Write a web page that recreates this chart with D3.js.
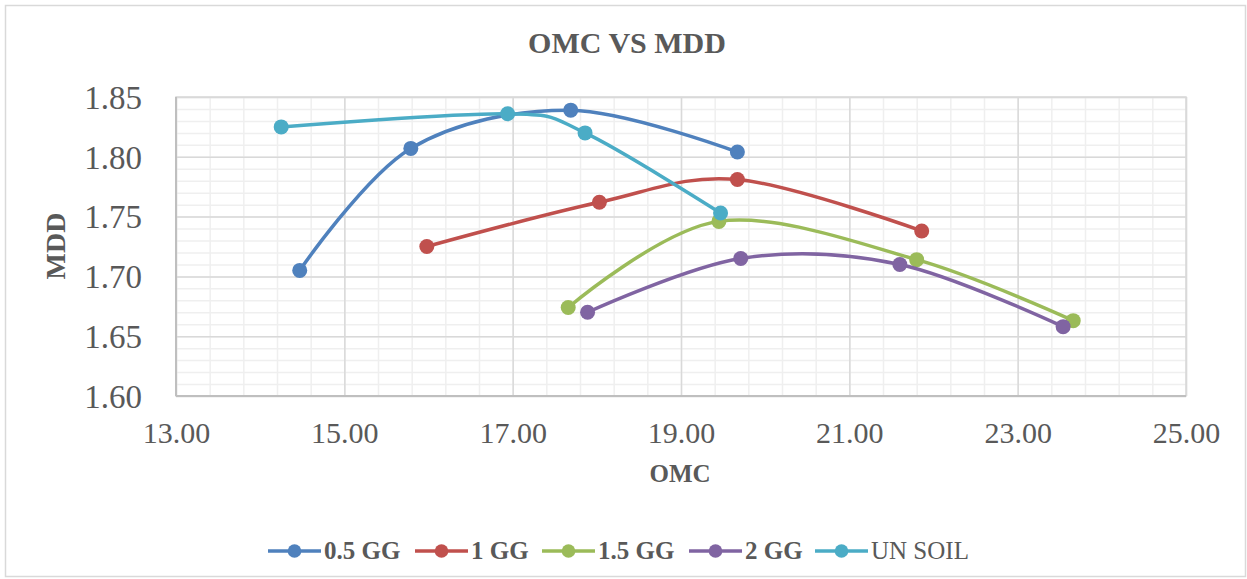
<!DOCTYPE html>
<html>
<head>
<meta charset="utf-8">
<script src="https://cdn.jsdelivr.net/npm/d3@7"></script>
<style>
  body { margin: 0; background: #fff; }
  text { font-family: "Liberation Serif", "Times New Roman", serif; fill: #595959; }
</style>
</head>
<body>
<div id="chart"></div>
<script>
const WIDTH = 1247;
const HEIGHT = 579;

// series names and colours
const SERIES = ['0.5 GG', '1 GG', '1.5 GG', '2 GG', 'UN SOIL'];
const COLORS = ['#4f81bd', '#c0504d', '#9bbb59', '#8064a2', '#4bacc6'];

// OMC (x) and MDD (y)
const OMC_05 = [14.47, 15.79, 17.69, 19.67];
const MDD_05 = [1.705, 1.807, 1.839, 1.804];
const OMC_1 = [15.98, 18.03, 19.67, 21.86];
const MDD_1 = [1.725, 1.762, 1.781, 1.738];
const OMC_15 = [17.66, 19.45, 21.80, 23.66];
const MDD_15 = [1.674, 1.746, 1.714, 1.663];
const OMC_2 = [17.89, 19.71, 21.60, 23.54];
const MDD_2 = [1.670, 1.715, 1.710, 1.658];
const OMC_UN = [14.25, 16.94, 17.86, 19.47];
const MDD_UN = [1.825, 1.836, 1.820, 1.753];

const X_TICKS = [13, 15, 17, 19, 21, 23, 25];
const Y_TICKS = [1.60, 1.65, 1.70, 1.75, 1.80, 1.85];

const OMC_ALL = [OMC_05, OMC_1, OMC_15, OMC_2, OMC_UN];
const MDD_ALL = [MDD_05, MDD_1, MDD_15, MDD_2, MDD_UN];

const margin = { top: 97, right: 61, bottom: 183, left: 176 };
const width = WIDTH - margin.left - margin.right;
const height = HEIGHT - margin.top - margin.bottom;

const svg = d3.select('#chart')
  .append('svg')
  .attr('width', WIDTH)
  .attr('height', HEIGHT);

// outer chart border
svg.append('rect')
  .attr('x', 5.5).attr('y', 5.5)
  .attr('width', WIDTH - 7).attr('height', HEIGHT - 8)
  .attr('fill', 'none')
  .attr('stroke', '#d9d9d9')
  .attr('stroke-width', 1.5);

const x = d3.scaleLinear().domain([13, 25]).range([0, width]);
const y = d3.scaleLinear().domain([1.60, 1.85]).range([height, 0]);

const g = svg.append('g')
  .attr('transform', 'translate(' + margin.left + ',' + margin.top + ')');

// minor gridlines
g.append('g')
  .call(d3.axisBottom(x).tickValues(d3.range(13, 25.01, 0.4)).tickSize(-height).tickFormat(''))
  .attr('transform', 'translate(0,' + height + ')')
  .call(a => a.select('.domain').remove())
  .selectAll('line').attr('stroke', '#efefef').attr('stroke-width', 1.5);

g.append('g')
  .call(d3.axisLeft(y).tickValues(d3.range(1.60, 1.8501, 0.01)).tickSize(-width).tickFormat(''))
  .call(a => a.select('.domain').remove())
  .selectAll('line').attr('stroke', '#efefef').attr('stroke-width', 1.5);

// major gridlines
g.append('g')
  .call(d3.axisBottom(x).tickValues(X_TICKS).tickSize(-height).tickFormat(''))
  .attr('transform', 'translate(0,' + height + ')')
  .call(a => a.select('.domain').remove())
  .selectAll('line').attr('stroke', '#d9d9d9').attr('stroke-width', 1.5);

g.append('g')
  .call(d3.axisLeft(y).tickValues(Y_TICKS).tickSize(-width).tickFormat(''))
  .call(a => a.select('.domain').remove())
  .selectAll('line').attr('stroke', '#d9d9d9').attr('stroke-width', 1.5);

// plot frame
g.append('rect')
  .attr('width', width).attr('height', height)
  .attr('fill', 'none')
  .attr('stroke', '#d9d9d9')
  .attr('stroke-width', 1.5);

// axis lines
g.append('line')
  .attr('x1', 0).attr('x2', 0).attr('y1', 0).attr('y2', height)
  .attr('stroke', '#bfbfbf').attr('stroke-width', 2);
g.append('line')
  .attr('x1', 0).attr('x2', width).attr('y1', height).attr('y2', height)
  .attr('stroke', '#bfbfbf').attr('stroke-width', 2);

// tick labels
const xAxis = g.append('g')
  .attr('transform', 'translate(0,' + height + ')')
  .call(d3.axisBottom(x).tickValues(X_TICKS).tickSize(0).tickPadding(0).tickFormat(d3.format('.2f')));
xAxis.select('.domain').remove();
xAxis.selectAll('text')
  .attr('y', 47)
  .attr('dy', null)
  .style('font-size', '30px')
  .style('font-family', '"Liberation Serif", serif')
  .attr('fill', '#595959');

const yAxis = g.append('g')
  .call(d3.axisLeft(y).tickValues(Y_TICKS).tickSize(0).tickPadding(0).tickFormat(d3.format('.2f')));
yAxis.select('.domain').remove();
yAxis.selectAll('text')
  .attr('x', -34)
  .attr('dy', '0.34em')
  .style('font-size', '33px')
  .style('font-family', '"Liberation Serif", serif')
  .attr('fill', '#595959');

// titles
svg.append('text')
  .attr('x', 627).attr('y', 53)
  .attr('text-anchor', 'middle')
  .style('font-size', '30px').style('font-weight', 'bold')
  .text('OMC VS MDD');

svg.append('text')
  .attr('x', 680).attr('y', 482)
  .attr('text-anchor', 'middle')
  .style('font-size', '25px').style('font-weight', 'bold')
  .text('OMC');

svg.append('text')
  .attr('transform', 'translate(65,246) rotate(-90)')
  .attr('text-anchor', 'middle')
  .style('font-size', '28px').style('font-weight', 'bold')
  .text('MDD');

// series
const line = d3.line()
  .x(d => x(d[0]))
  .y(d => y(d[1]))
  .curve(d3.curveCardinal.tension(0));

SERIES.forEach((name, i) => {
  const pts = OMC_ALL[i].map((v, j) => [v, MDD_ALL[i][j]]);
  g.append('path')
    .datum(pts)
    .attr('d', line)
    .attr('fill', 'none')
    .attr('stroke', COLORS[i])
    .attr('stroke-width', 3.5);
  g.selectAll('.pt' + i)
    .data(pts)
    .enter()
    .append('circle')
    .attr('cx', d => x(d[0]))
    .attr('cy', d => y(d[1]))
    .attr('r', 7.5)
    .attr('fill', COLORS[i]);
});

// legend
const legendX = [268, 415, 542, 689, 815];
const legend = svg.append('g');
SERIES.forEach((name, i) => {
  const lx = legendX[i];
  legend.append('line')
    .attr('x1', lx).attr('x2', lx + 53)
    .attr('y1', 551).attr('y2', 551)
    .attr('stroke', COLORS[i]).attr('stroke-width', 3.5);
  legend.append('circle')
    .attr('cx', lx + 26.5).attr('cy', 551).attr('r', 6.8)
    .attr('fill', COLORS[i]);
  legend.append('text')
    .attr('x', lx + 56).attr('y', 559)
    .style('font-size', '25px')
    .style('font-weight', i < 4 ? 'bold' : 'normal')
    .text(name);
});
</script>
</body>
</html>
